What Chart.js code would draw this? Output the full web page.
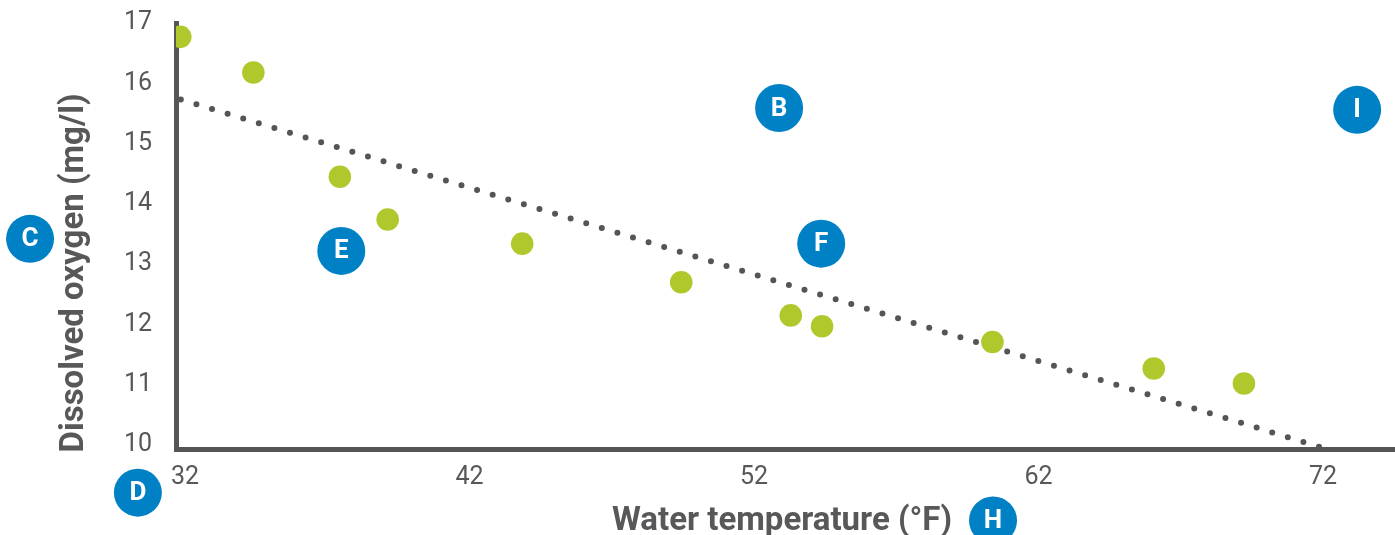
<!DOCTYPE html>
<html lang="en">
<head>
  <meta charset="UTF-8" />
  <title>Dissolved oxygen vs water temperature</title>
  <script src="https://cdn.jsdelivr.net/npm/chart.js"></script>
  <style>
    html, body { margin: 0; padding: 0; background: #fff; overflow: hidden; }
    .chart-box { width: 1395px; height: 535px; position: relative; }
    canvas { display: block; }
  </style>
</head>
<body>
  <div class="chart-box">
    <canvas id="oxygenChart"></canvas>
  </div>

  <script>
    // measured samples
    const tempF = [31.83, 34.40, 37.44, 39.12, 43.85, 49.44, 53.29, 54.39, 60.38, 66.05, 69.22];
    const oxygen = [16.77, 16.18, 14.45, 13.74, 13.34, 12.70, 12.15, 11.97, 11.71, 11.27, 11.02];

    // trend line end points
    const trendX = [31.85, 71.88];
    const trendY = [15.73, 9.97];

    // lettered markers
    const markerLetters = ['B', 'I', 'C', 'E', 'F', 'D', 'H'];
    const markerX = [52.88, 73.20, 26.55, 37.49, 54.36, 30.34, 60.40];
    const markerY = [15.59, 15.56, 13.42, 13.22, 13.34, 9.21, 8.75];

    const xTicks = [32, 42, 52, 62, 72];
    const yTicks = [10, 11, 12, 13, 14, 15, 16, 17];

    const textColor = '#58585a';
    const axisColor = '#555555';

    const toPoints = (xs, ys) => xs.map((x, i) => ({ x: x, y: ys[i] }));

    // markers sit partly outside the plot area, so draw them without the area check
    const letterPlugin = {
      id: 'letters',
      beforeDatasetDraw(chart, args) {
        if (args.index === 2) return false;
      },
      afterDatasetsDraw(chart) {
        const ctx = chart.ctx;
        const meta = chart.getDatasetMeta(2);
        meta.data.forEach(pt => pt.draw(ctx));
        ctx.save();
        ctx.fillStyle = '#ffffff';
        ctx.font = 'bold 26px Roboto';
        ctx.textAlign = 'center';
        ctx.textBaseline = 'middle';
        meta.data.forEach((pt, i) => {
          ctx.fillText(markerLetters[i], pt.x, pt.y + 1);
        });
        ctx.restore();
      }
    };

    const axisTitles = {
      id: 'axisTitles',
      afterDraw(chart) {
        const ctx = chart.ctx;
        const area = chart.chartArea;
        ctx.save();
        ctx.fillStyle = textColor;
        ctx.font = 'bold 33px Roboto';
        ctx.textAlign = 'center';
        ctx.textBaseline = 'middle';
        ctx.fillText('Water temperature (°F)', 782, area.bottom + 73);
        ctx.translate(75, 273);
        ctx.rotate(-Math.PI / 2);
        ctx.fillText('Dissolved oxygen (mg/l)', 0, 0);
        ctx.restore();
      }
    };

    const ctx = document.getElementById('oxygenChart').getContext('2d');
    new Chart(ctx, {
      type: 'scatter',
      data: {
        datasets: [
          {
            label: 'Samples',
            data: toPoints(tempF, oxygen),
            backgroundColor: '#b1c82c',
            borderWidth: 0,
            pointRadius: 11.3,
            pointHoverRadius: 11.3,
            order: 1
          },
          {
            label: 'Trend',
            type: 'line',
            data: toPoints(trendX, trendY),
            borderColor: axisColor,
            borderWidth: 6,
            borderDash: [0, 16.3],
            borderCapStyle: 'round',
            pointRadius: 0,
            fill: false,
            order: 2
          },
          {
            label: 'Markers',
            data: toPoints(markerX, markerY),
            backgroundColor: '#0081c6',
            borderWidth: 0,
            pointRadius: 24,
            pointHoverRadius: 24,
            clip: false,
            order: 0
          }
        ]
      },
      options: {
        responsive: true,
        maintainAspectRatio: false,
        animation: false,
        layout: { autoPadding: false, padding: { top: 23, right: 0, left: 0, bottom: 0 } },
        plugins: {
          legend: { display: false },
          tooltip: { enabled: false }
        },
        scales: {
          x: {
            type: 'linear',
            min: 31.68,
            max: 74.53,
            grid: { display: false, drawTicks: false },
            border: { display: true, color: axisColor, width: 5 },
            ticks: {
              color: textColor,
              font: { family: 'Roboto', size: 25 },
              padding: 14,
              maxRotation: 0
            },
            afterBuildTicks: scale => { scale.ticks = xTicks.map(v => ({ value: v })); },
            afterFit: scale => {
              scale.height = 86;
              scale.paddingLeft = 0;
              scale.paddingRight = 0;
            }
          },
          y: {
            min: 9.934,
            max: 17,
            grid: { display: false, drawTicks: false },
            border: { display: true, color: axisColor, width: 5 },
            ticks: {
              color: textColor,
              font: { family: 'Roboto', size: 25 },
              padding: 24
            },
            afterBuildTicks: scale => { scale.ticks = yTicks.map(v => ({ value: v })); },
            afterFit: scale => {
              scale.width = 176;
              scale.paddingTop = 0;
              scale.paddingBottom = 0;
            }
          }
        }
      },
      plugins: [letterPlugin, axisTitles]
    });
  </script>
</body>
</html>
